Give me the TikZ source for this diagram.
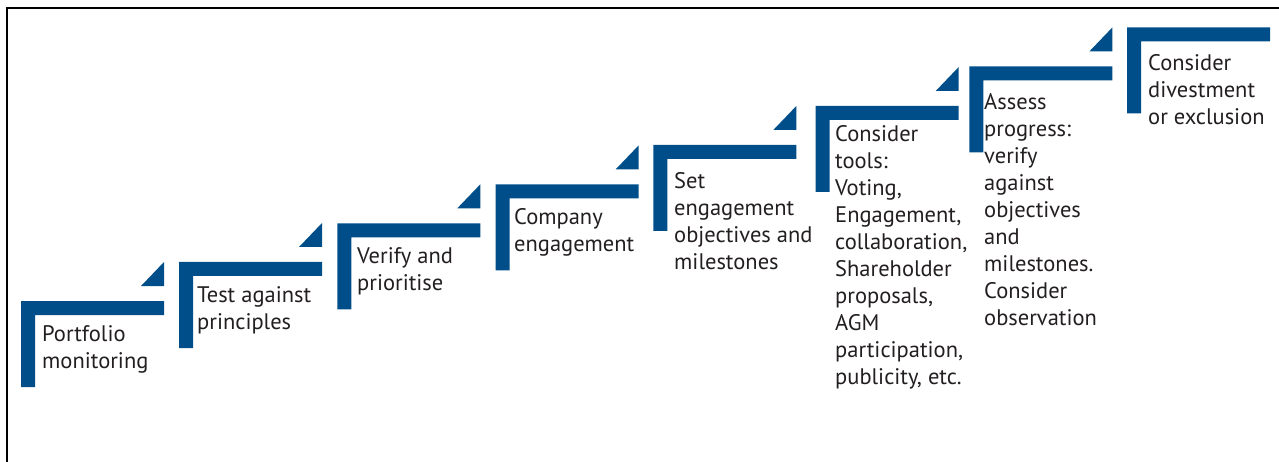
\documentclass[tikz,border=0pt]{standalone}
\usepackage{fontspec}
\setmainfont{PT Sans}
\definecolor{stepblue}{RGB}{0,78,137}
\definecolor{steptext}{RGB}{35,31,32}
\begin{document}
\begin{tikzpicture}[x=1pt,y=-1pt,
  frameline/.style={draw=black,line width=2pt},
  stepbar/.style={fill=stepblue,draw=none},
  steplabel/.style={anchor=base west,inner sep=0pt,text=steptext,
    font=\fontsize{22.5}{27}\selectfont}]
\useasboundingbox (0,0) rectangle (1279,462);
% open frame: top and left edges
\coordinate (fbl) at (7,463);
\coordinate (ftl) at (7,7.7);
\coordinate (ftr) at (1280,7.7);
\draw[frameline] (fbl) -- (ftl) -- (ftr);
% the staircase: bar corner x/y, label x, first baseline, label
\foreach \x/\y/\tx/\bl/\txt [count=\i] in {
  21/301/42/341/{Portfolio\\monitoring},
  179/262/197/302.3/{Test against\\principles},
  337.3/223.3/357/263.3/{Verify and\\prioritise},
  495.7/184.3/514/225/{Company\\engagement},
  653.3/145/674/188.3/{Set\\engagement\\objectives and\\milestones},
  815.7/106/835/142/{Consider\\tools:\\Voting,\\Engagement,\\collaboration,\\Shareholder\\proposals,\\AGM\\participation,\\publicity, etc.},
  969.3/66.5/984/109.3/{Assess\\progress:\\verify\\against\\objectives\\and\\milestones.\\Consider\\observation},
  1127/27.3/1148/71/{Consider\\divestment\\or exclusion}} {
  \fill[stepbar] (\x,\y) -- (\x+143,\y) -- (\x+143,\y+14) -- (\x+14,\y+14)
    -- (\x+14,\y+86) -- (\x,\y+86) -- cycle;
  \ifnum\i<8
    \fill[stepbar] (\x+143,\y-39) -- (\x+143,\y-15) -- (\x+120,\y-15) -- cycle;
  \fi
  \node[steplabel] (step\i) at (\tx,\bl)
    {\begin{tabular}[t]{@{}l@{}}\txt\end{tabular}};
}
\end{tikzpicture}
\end{document}
